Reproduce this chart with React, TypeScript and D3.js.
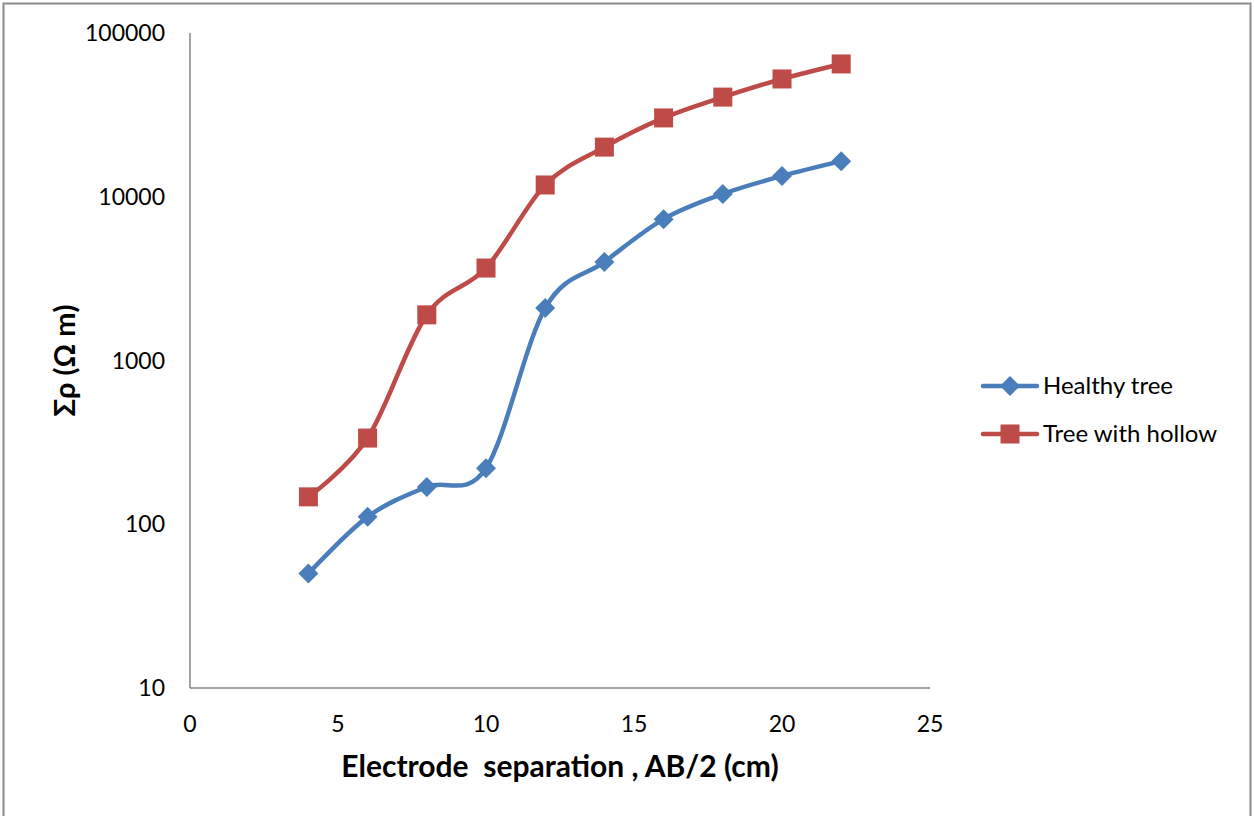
import React, { useEffect, useRef } from 'react';
import * as d3 from 'd3';

// Chart data
const separation = [4, 6, 8, 10, 12, 14, 16, 18, 20, 22];
const healthyTree = [50, 111, 169, 220, 2090, 4000, 7300, 10400, 13400, 16500];
const treeWithHollow = [147, 336, 1900, 3670, 11800, 20100, 30300, 40600, 52400, 64700];
const xTicks = [0, 5, 10, 15, 20, 25];
const yTicks = [10, 100, 1000, 10000, 100000];

const series = [
  { name: 'Healthy tree', values: healthyTree, color: '#4A7EBB', marker: 'diamond' },
  { name: 'Tree with hollow', values: treeWithHollow, color: '#BE4B48', marker: 'square' },
];

const W = 1254;
const H = 816;
const FONT = 'Lato, "Open Sans", sans-serif';

const App: React.FC = () => {
  const svgRef = useRef<SVGSVGElement>(null);

  useEffect(() => {
    if (!svgRef.current) return;
    const svg = d3.select(svgRef.current);
    svg.selectAll('*').remove();

    const x = d3.scaleLinear().domain([0, 25]).range([190, 930]);
    const y = d3.scaleLog().domain([10, 100000]).range([688, 33]);

    // outer chart border
    svg.append('rect')
      .attr('x', 3.5).attr('y', 3.5)
      .attr('width', 1247).attr('height', 830)
      .attr('fill', '#fff')
      .attr('stroke', '#8c8c8c')
      .attr('stroke-width', 2);

    // axes
    svg.append('line')
      .attr('x1', x(0)).attr('x2', x(0))
      .attr('y1', y(100000)).attr('y2', y(10))
      .attr('stroke', '#868686').attr('stroke-width', 1.5);
    svg.append('line')
      .attr('x1', x(0)).attr('x2', x(25))
      .attr('y1', y(10)).attr('y2', y(10))
      .attr('stroke', '#868686').attr('stroke-width', 1.5);

    // tick labels
    svg.append('g')
      .attr('font-family', FONT).attr('font-size', 23).attr('fill', '#000')
      .attr('text-anchor', 'end')
      .selectAll('text')
      .data(yTicks)
      .join('text')
      .attr('x', 165)
      .attr('y', d => y(d))
      .attr('dy', '0.35em')
      .text(d => String(d));

    svg.append('g')
      .attr('font-family', FONT).attr('font-size', 23).attr('fill', '#000')
      .attr('text-anchor', 'middle')
      .selectAll('text')
      .data(xTicks)
      .join('text')
      .attr('x', d => x(d))
      .attr('y', 732)
      .text(d => String(d));

    // axis titles
    svg.append('text')
      .attr('x', (x(0) + x(25)) / 2)
      .attr('y', 777)
      .attr('text-anchor', 'middle')
      .attr('font-family', FONT).attr('font-size', 30).attr('font-weight', 'bold')
      .attr('xml:space', 'preserve')
      .text('Electrode  separation , AB/2 (cm)');

    svg.append('text')
      .attr('transform', `translate(75, ${(y(10) + y(100000)) / 2}) rotate(-90)`)
      .attr('text-anchor', 'middle')
      .attr('font-family', FONT).attr('font-size', 29).attr('font-weight', 'bold')
      .text('Σρ (Ω m)');

    const line = d3.line<number>()
      .x((_, i) => x(separation[i]))
      .y(d => y(d))
      .curve(d3.curveCatmullRom.alpha(0));

    const drawMarker = (g: d3.Selection<SVGGElement, unknown, null, undefined>, kind: string, color: string, cx: number, cy: number) => {
      if (kind === 'diamond') {
        g.append('path')
          .attr('d', `M${cx},${cy - 10}L${cx + 10},${cy}L${cx},${cy + 10}L${cx - 10},${cy}Z`)
          .attr('fill', color);
      } else {
        g.append('rect')
          .attr('x', cx - 9.5).attr('y', cy - 9.5)
          .attr('width', 19).attr('height', 19)
          .attr('fill', color);
      }
    };

    series.forEach((s, si) => {
      const g = svg.append('g');
      g.append('path')
        .datum(s.values)
        .attr('d', line)
        .attr('fill', 'none')
        .attr('stroke', s.color)
        .attr('stroke-width', 4.5)
        .attr('stroke-linecap', 'round');
      s.values.forEach((v, i) => drawMarker(g, s.marker, s.color, x(separation[i]), y(v)));

      // legend entry
      const ly = 386 + si * 48;
      const lg = svg.append('g');
      lg.append('line')
        .attr('x1', 983).attr('x2', 1037)
        .attr('y1', ly).attr('y2', ly)
        .attr('stroke', s.color).attr('stroke-width', 4.5)
        .attr('stroke-linecap', 'round');
      drawMarker(lg, s.marker, s.color, 1010, ly);
      lg.append('text')
        .attr('x', 1043).attr('y', ly)
        .attr('dy', '0.35em')
        .attr('font-family', FONT).attr('font-size', 24)
        .text(s.name);
    });
  }, []);

  return (
    <svg
      ref={svgRef}
      width={W}
      height={H}
      style={{ position: 'absolute', left: 0, top: 0, background: '#fff' }}
    />
  );
};

export default App;
